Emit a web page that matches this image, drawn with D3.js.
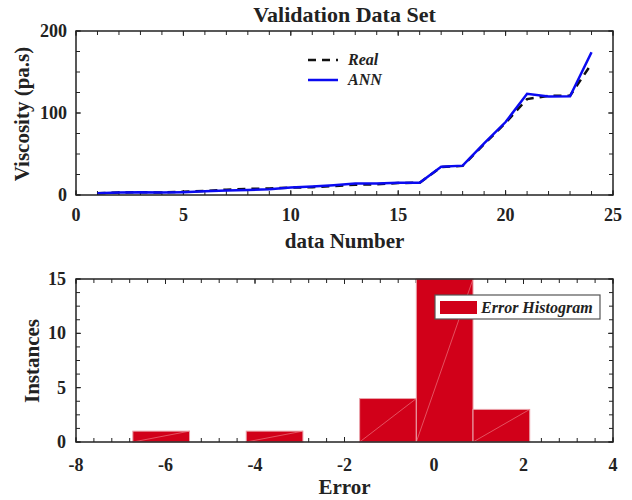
<!DOCTYPE html>
<html>
<head>
<meta charset="utf-8">
<script src="https://cdn.jsdelivr.net/npm/d3@7"></script>
<style>
  body { margin: 0; background: #fff; }
  svg text { font-family: "Liberation Serif", "Times New Roman", serif; font-weight: bold; fill: #222; }
</style>
</head>
<body>
<svg id="chart" width="632" height="500"></svg>
<script>
// validation data set
const dataNumber = d3.range(1, 25)
const realVals = [2, 3, 3.5, 3, 4, 5, 6.5, 7.5, 8, 9, 9.5, 11, 12.5, 13, 14.5, 15, 34, 35.5, 62, 88, 117, 121, 121, 160]
const annVals  = [2, 3, 3.5, 3, 3.5, 4.5, 5.5, 6, 7, 9, 10.5, 12, 14, 14, 15, 15, 34.5, 35.8, 63, 89, 123.5, 120, 120.3, 174]

// error histogram
const binEdges = [-6.73, -5.463, -4.196, -2.929, -1.662, -0.395, 0.872, 2.139]
const binCounts = [1, 0, 1, 0, 4, 15, 3]

const xTicksTop = [0, 5, 10, 15, 20, 25]
const yTicksTop = [0, 100, 200]
const xTicksBot = [-8, -6, -4, -2, 0, 2, 4]
const yTicksBot = [0, 5, 10, 15]

const svg = d3.select('#chart')

// draws inward ticks on all four sides
function drawBox(g, x, y, majX, majY, minX, minY) {
    const [x0, x1] = x.range()
    const [y0, y1] = y.range()
    const tk = g.append('g').attr('stroke', '#222').attr('stroke-width', 1)
    const addTicks = (vals, len) => {
        vals.x.forEach(v => {
            tk.append('line').attr('x1', x(v)).attr('x2', x(v)).attr('y1', y0).attr('y2', y0 - len)
            tk.append('line').attr('x1', x(v)).attr('x2', x(v)).attr('y1', y1).attr('y2', y1 + len)
        })
        vals.y.forEach(v => {
            tk.append('line').attr('y1', y(v)).attr('y2', y(v)).attr('x1', x0).attr('x2', x0 + len)
            tk.append('line').attr('y1', y(v)).attr('y2', y(v)).attr('x1', x1).attr('x2', x1 - len)
        })
    }
    addTicks({x: minX, y: minY}, 4)
    addTicks({x: majX, y: majY}, 5)
}

function drawFrame(g, x, y) {
    const [x0, x1] = x.range()
    const [y0, y1] = y.range()
    g.append('rect')
        .attr('x', x0).attr('y', y1)
        .attr('width', x1 - x0).attr('height', y0 - y1)
        .attr('fill', 'none').attr('stroke', '#222').attr('stroke-width', 1.5)
}

function tickLabels(g, x, y, xt, yt, xBase, yRight) {
    g.selectAll('.xl').data(xt).enter().append('text')
        .attr('x', d => x(d)).attr('y', xBase)
        .attr('text-anchor', 'middle').attr('font-size', 18)
        .text(d => d)
    g.selectAll('.yl').data(yt).enter().append('text')
        .attr('x', yRight).attr('y', d => y(d) + 6)
        .attr('text-anchor', 'end').attr('font-size', 18)
        .text(d => d)
}

//---------------- top plot
const xTop = d3.scaleLinear().domain([0, 25]).range([76, 613])
const yTop = d3.scaleLinear().domain([0, 200]).range([195, 31])
const topG = svg.append('g')

drawBox(topG, xTop, yTop, xTicksTop, yTicksTop, d3.range(0, 26, 1), d3.range(0, 201, 25))

const line = d3.line().x((d, i) => xTop(dataNumber[i])).y(d => yTop(d))

topG.append('path').datum(realVals)
    .attr('d', line).attr('fill', 'none')
    .attr('stroke', '#111').attr('stroke-width', 2.5)
    .attr('stroke-dasharray', '8,6')
topG.append('path').datum(annVals)
    .attr('d', line).attr('fill', 'none')
    .attr('stroke', '#0a0af0').attr('stroke-width', 2.5)

drawFrame(topG, xTop, yTop)
tickLabels(topG, xTop, yTop, xTicksTop, yTicksTop, 221, 67)

topG.append('text').attr('x', 344.5).attr('y', 22).attr('text-anchor', 'middle')
    .attr('font-size', 22).text('Validation Data Set')
topG.append('text').attr('x', 344.5).attr('y', 248).attr('text-anchor', 'middle')
    .attr('font-size', 21).text('data Number')
topG.append('text').attr('transform', 'translate(29,114) rotate(-90)')
    .attr('text-anchor', 'middle').attr('font-size', 21).text('Viscosity (pa.s)')

// legend
const lg = topG.append('g')
lg.append('line').attr('x1', 308).attr('x2', 338).attr('y1', 60).attr('y2', 60)
    .attr('stroke', '#111').attr('stroke-width', 2.5).attr('stroke-dasharray', '8,6')
lg.append('line').attr('x1', 308).attr('x2', 338).attr('y1', 80).attr('y2', 80)
    .attr('stroke', '#0a0af0').attr('stroke-width', 2.5)
lg.append('text').attr('x', 348).attr('y', 65).attr('font-size', 16)
    .attr('font-style', 'italic').text('Real')
lg.append('text').attr('x', 348).attr('y', 85).attr('font-size', 16)
    .attr('font-style', 'italic').text('ANN')

//---------------- bottom plot
const xBot = d3.scaleLinear().domain([-8, 4]).range([76, 613])
const yBot = d3.scaleLinear().domain([0, 15]).range([442, 279])
const botG = svg.append('g')

drawBox(botG, xBot, yBot, xTicksBot, yTicksBot, d3.range(-8, 4.01, 0.4), d3.range(0, 15.01, 1.25))

const bins = binCounts.map((c, i) => ({x0: binEdges[i], x1: binEdges[i + 1], n: c})).filter(b => b.n > 0)
const bars = botG.selectAll('.bar').data(bins).enter().append('g')
bars.append('rect')
    .attr('x', d => xBot(d.x0)).attr('y', d => yBot(d.n))
    .attr('width', d => xBot(d.x1) - xBot(d.x0))
    .attr('height', d => yBot(0) - yBot(d.n))
    .attr('fill', '#d10019').attr('stroke', '#eaa3ab').attr('stroke-width', 1)
bars.append('line')
    .attr('x1', d => xBot(d.x0)).attr('y1', yBot(0))
    .attr('x2', d => xBot(d.x1)).attr('y2', d => yBot(d.n))
    .attr('stroke', '#f08890').attr('stroke-width', 0.6)

drawFrame(botG, xBot, yBot)
tickLabels(botG, xBot, yBot, xTicksBot, yTicksBot, 471, 66)

botG.append('text').attr('x', 344.5).attr('y', 494).attr('text-anchor', 'middle')
    .attr('font-size', 21).text('Error')
botG.append('text').attr('transform', 'translate(39,361) rotate(-90)')
    .attr('text-anchor', 'middle').attr('font-size', 21).text('Instances')

// histogram legend
const hl = botG.append('g')
hl.append('rect').attr('x', 435).attr('y', 295).attr('width', 165).attr('height', 24)
    .attr('fill', '#fff').attr('stroke', '#555').attr('stroke-width', 1.2)
hl.append('rect').attr('x', 440).attr('y', 301).attr('width', 37).attr('height', 13)
    .attr('fill', '#d10019')
hl.append('text').attr('x', 481).attr('y', 313).attr('font-size', 16)
    .attr('font-style', 'italic').text('Error Histogram')
</script>
</body>
</html>
